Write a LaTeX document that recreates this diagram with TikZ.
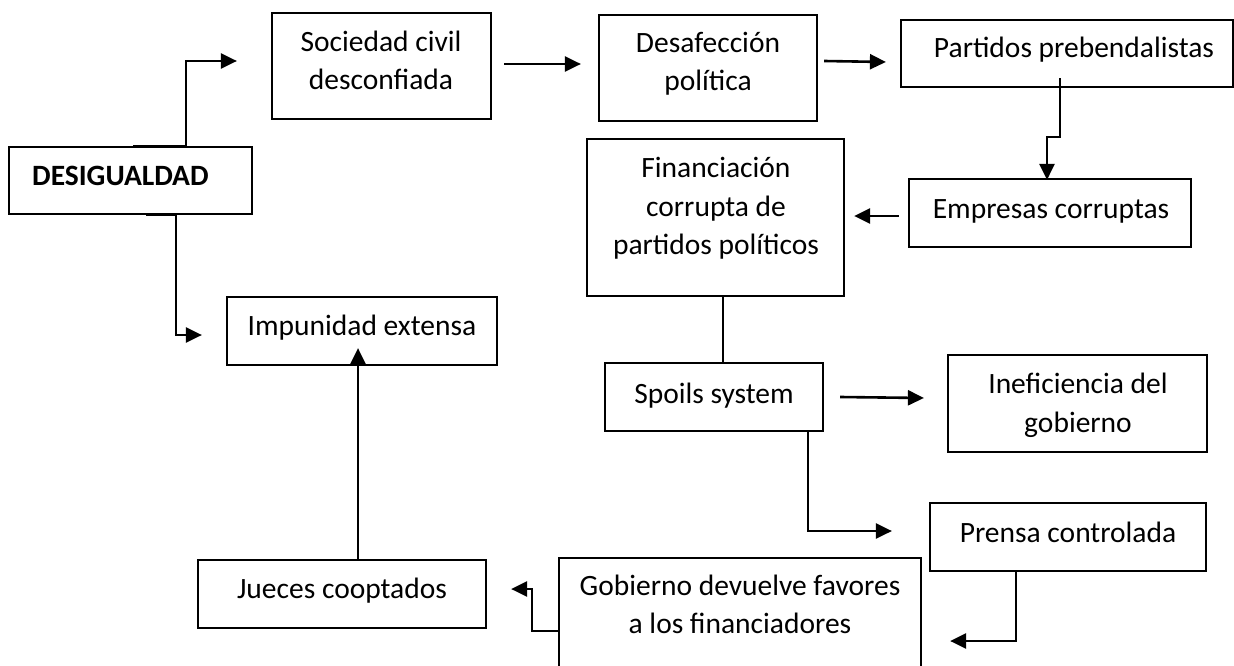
\documentclass[tikz,border=0pt]{standalone}
\usepackage{fontspec}
\setmainfont{Carlito}
\usetikzlibrary{arrows.meta}
\begin{document}
\begin{tikzpicture}[x=1pt,y=-1pt,
  box/.style={draw, line width=2.2pt, inner sep=0pt},
  txt/.style={inner sep=0pt, anchor=base, font=\fontsize{29.5}{38}\selectfont},
  conn/.style={line width=2.6pt},
  arr/.style={conn, -{Triangle[length=16pt,width=15pt]}}]
\useasboundingbox (0,0) rectangle (1234,666);

% boxes
\node[box, minimum width=243pt, minimum height=67pt]  (bdes)   at (130.5,180.5) {};
\node[box, minimum width=219pt, minimum height=106pt] (bsoc)   at (381.5,66) {};
\node[box, minimum width=218pt, minimum height=106pt] (bdesaf) at (708,68) {};
\node[box, minimum width=332pt, minimum height=67pt]  (bpart)  at (1067,53.5) {};
\node[box, minimum width=282pt, minimum height=68pt]  (bemp)   at (1050,213) {};
\node[box, minimum width=257pt, minimum height=157pt] (bfin)   at (715.5,217.5) {};
\node[box, minimum width=218pt, minimum height=68pt]  (bspo)   at (714,397) {};
\node[box, minimum width=259pt, minimum height=97pt]  (binef)  at (1077.5,403.5) {};
\node[box, minimum width=276pt, minimum height=68pt]  (bpre)   at (1068,537) {};
\node[box, minimum width=362pt, minimum height=142pt] (bgob)   at (740,629) {};
\node[box, minimum width=288pt, minimum height=68pt]  (bjue)   at (342,594) {};
\node[box, minimum width=270pt, minimum height=68pt]  (bimp)   at (362,331) {};

% texts
\node[txt, anchor=base west, font=\fontsize{29.5}{38}\selectfont\bfseries] (tdes) at (32,185) {DESIGUALDAD};
\node[txt] (tsoc1) at (381,52) {Sociedad civil};
\node[txt] (tsoc2) at (381,90) {desconfiada};
\node[txt] (tdesaf1) at (708,53) {Desafección};
\node[txt] (tdesaf2) at (708,91) {política};
\node[txt] (tpart) at (1074,58) {Partidos prebendalistas};
\node[txt] (tfin1) at (716,177) {Financiación};
\node[txt] (tfin2) at (716,216) {corrupta de};
\node[txt] (tfin3) at (716,254) {partidos políticos};
\node[txt] (temp) at (1051,218) {Empresas corruptas};
\node[txt] (tspo) at (714,403) {Spoils system};
\node[txt] (tinef1) at (1078,393) {Ineficiencia del};
\node[txt] (tinef2) at (1078,432) {gobierno};
\node[txt] (tpre) at (1068,542) {Prensa controlada};
\node[txt] (tgob1) at (740,595) {Gobierno devuelve favores};
\node[txt] (tgob2) at (740,633) {a los financiadores};
\node[txt] (tjue) at (342,598) {Jueces cooptados};
\node[txt] (timp) at (362,335) {Impunidad extensa};

% connectors
\draw[arr] (bdes.north -| 133,0) -- (bdes.north -| 186,0) |- ([xshift=-34pt]bsoc.west |- 0,61);
\draw[arr] (bdes.south -| 146,0) -- (bdes.south -| 176,0) |- ([xshift=-24pt]bimp.west |- 0,335);
\draw[arr] ([xshift=12pt]bsoc.east |- 0,64) -- ([xshift=-17pt]bdesaf.west |- 0,64);
\draw[arr] ([xshift=6pt]bdesaf.east |- 0,61) -- ([xshift=-14pt]bpart.west |- 0,62);
\draw[arr] ([yshift=10pt]bpart.south -| 1060,0) -- (1060,137) -- (1047,137) -- ([yshift=-2pt]bemp.north -| 1047,0);
\draw[arr] ([xshift=-9pt]bemp.west |- 0,216) -- ([xshift=9pt]bfin.east |- 0,216);
\draw[conn] (bfin.south -| 723,0) -- (bspo.north -| 723,0);
\draw[arr] ([xshift=16pt]bspo.east |- 0,397) -- ([xshift=-23pt]binef.west |- 0,398);
\draw[arr] (bspo.south -| 808,0) |- ([xshift=-37pt]bpre.west |- 0,531);
\draw[arr] (bpre.south -| 1016,0) |- ([xshift=28pt]bgob.east |- 0,641);
\draw[arr] (bgob.west |- 0,631) -- (532,631) |- ([xshift=24pt]bjue.east |- 0,589);
\draw[arr] (bjue.north -| 358,0) -- ([yshift=18pt]bimp.south -| 358,0);
\end{tikzpicture}
\end{document}
